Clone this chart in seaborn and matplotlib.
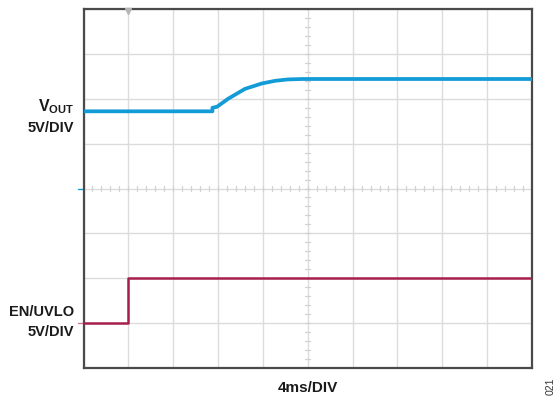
import numpy as np
import pandas as pd
import matplotlib
matplotlib.use("Agg")
import matplotlib.pyplot as plt
import seaborn as sns

# ---- data (read from the scope capture) ----
vout_time_ms = [0.0, 11.5, 11.5, 11.9, 12.9, 14.4, 15.9, 17.1, 18.2, 19.5, 40.0]
vout_volts = [8.6, 8.6, 9.0, 9.1, 10.0, 11.1, 11.7, 12.0, 12.15, 12.2, 12.2]
en_time_ms = [0.0, 4.0, 4.0, 40.0]
en_volts = [0.0, 0.0, 5.0, 5.0]

volts_per_div = 5.0
ms_per_div = 4.0
vout_ground_div = 4.0
en_ground_div = 1.0

BLUE = "#129bd6"
RED = "#a81f4d"

sns.set_style("white")
plt.rcParams["font.family"] = ["Liberation Sans", "DejaVu Sans"]
plt.rcParams["mathtext.fontset"] = "custom"
plt.rcParams["mathtext.rm"] = "Liberation Sans:bold"
plt.rcParams["mathtext.bf"] = "Liberation Sans:bold"
plt.rcParams["mathtext.it"] = "Liberation Sans:bold"

W, H = 558, 397
fig = plt.figure(figsize=(W / 100, H / 100), dpi=100)
ax = fig.add_axes([83.5 / W, 1 - 368 / H, (532 - 83.5) / W, (368 - 9) / H])

vout_df = pd.DataFrame({
    "t": vout_time_ms,
    "y": [vout_ground_div + v / volts_per_div for v in vout_volts],
})
en_df = pd.DataFrame({
    "t": en_time_ms,
    "y": [en_ground_div + v / volts_per_div for v in en_volts],
})

sns.lineplot(data=vout_df, x="t", y="y", estimator=None, sort=False,
             color=BLUE, linewidth=2.7, ax=ax, zorder=5)
sns.lineplot(data=en_df, x="t", y="y", estimator=None, sort=False,
             color=RED, linewidth=1.8, ax=ax, zorder=5)

ax.set_xlim(0, 10 * ms_per_div)
ax.set_ylim(0, 8)
ax.set_xticks(np.arange(0, 10 * ms_per_div + 0.1, ms_per_div))
ax.set_yticks(np.arange(0, 9, 1))
ax.grid(True, color="#dcdcdc", linewidth=1.0)
ax.set_axisbelow(True)
ax.tick_params(length=0, labelbottom=False, labelleft=False)
ax.set_xlabel("")
ax.set_ylabel("")
for s in ax.spines.values():
    s.set_color("#4a4a4a")
    s.set_linewidth(1.6)

# center graticule minor ticks
cx = 5 * ms_per_div
cy = 4.0
for k in np.arange(0, 50.01, 1):
    xv = k * ms_per_div / 5
    ax.plot([xv, xv], [cy - 0.055, cy + 0.055], color="#d2d2d2", lw=0.9, zorder=1)
for k in np.arange(0, 40.01, 1):
    yv = k / 5
    ax.plot([cx - 0.055 * ms_per_div, cx + 0.055 * ms_per_div], [yv, yv],
            color="#d2d2d2", lw=0.9, zorder=1)

# ground markers
ax.plot([-0.45, -0.05], [vout_ground_div, vout_ground_div], color=BLUE, lw=1.0, clip_on=False)
ax.plot([-0.45, -0.05], [en_ground_div, en_ground_div], color="#d07890", lw=1.0, clip_on=False)
# trigger marker
ax.plot([en_time_ms[1]], [7.96], marker="v", color="#b5b5b5", markersize=4, clip_on=False, zorder=6)

fs = 10.5
def ftxt(x, y, s, **kw):
    fig.text(x / W, 1 - y / H, s, **kw)

ftxt(74, 111.0, r"$\mathbf{V_{OUT}}$", ha="right", va="baseline", fontsize=fs + 1, color="#1a1a1a")
ftxt(74, 131.7, "5V/DIV", ha="right", va="baseline", fontsize=fs, fontweight="bold", color="#1a1a1a")
ftxt(74, 316.0, "EN/UVLO", ha="right", va="baseline", fontsize=fs, fontweight="bold", color="#1a1a1a")
ftxt(74, 336.0, "5V/DIV", ha="right", va="baseline", fontsize=fs, fontweight="bold", color="#1a1a1a")
ftxt(308, 392.5, "4ms/DIV", ha="center", va="baseline", fontsize=fs + 0.5, fontweight="bold", color="#1a1a1a")
ftxt(551, 386, "021", ha="center", va="center", rotation=90, fontsize=7.5, color="#333333")

fig.savefig("out.png", dpi=100)
